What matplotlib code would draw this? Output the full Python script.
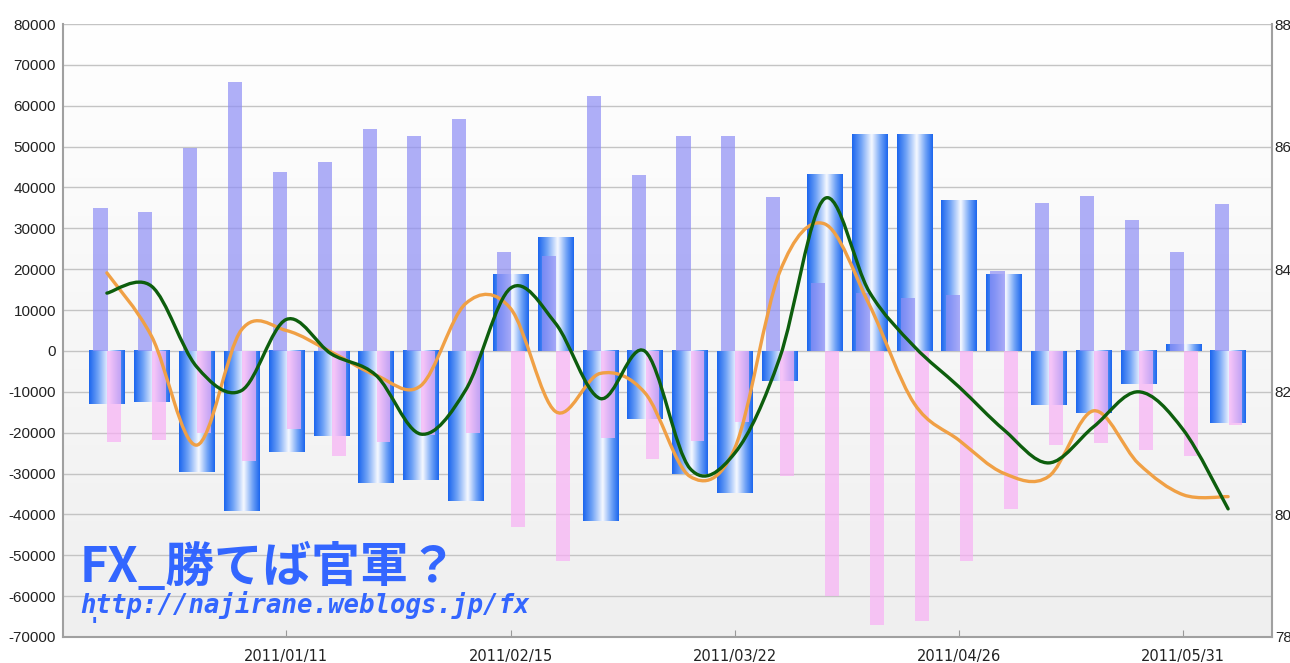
import matplotlib
matplotlib.use("Agg")
import matplotlib.pyplot as plt
import matplotlib.dates as mdates
from matplotlib.path import Path
from matplotlib.patches import PathPatch
from matplotlib.colors import LinearSegmentedColormap
import numpy as np
import datetime as dt

# ---------------- data ----------------
dates = ['2010-12-14', '2010-12-21', '2010-12-28', '2011-01-04', '2011-01-11',
         '2011-01-18', '2011-01-25', '2011-02-01', '2011-02-08', '2011-02-15',
         '2011-02-22', '2011-03-01', '2011-03-08', '2011-03-15', '2011-03-22',
         '2011-03-29', '2011-04-05', '2011-04-12', '2011-04-19', '2011-04-26',
         '2011-05-03', '2011-05-10', '2011-05-17', '2011-05-24', '2011-05-31',
         '2011-06-07']

long_pos = [34900, 33900, 49700, 65900, 43800, 46200, 54300, 52600, 56800, 24100,
            23300, 62400, 43000, 52600, 52600, 37700, 16600, 14100, 13000, 13700,
            19600, 36200, 38000, 32000, 24200, 36000]

short_pos = [-22400, -21900, -20100, -26900, -19200, -25600, -22400, -20500, -20000, -43000,
             -51400, -21400, -26500, -22000, -17500, -30700, -60000, -67000, -66000, -51300,
             -38700, -23000, -22500, -24300, -25800, -18100]

net_pos = [-13000, -12600, -29600, -39100, -24800, -20700, -32200, -31600, -36600, 18600,
           27800, -41600, -16700, -30200, -34700, -7300, 43200, 52900, 52900, 36900,
           18600, -13200, -15200, -8100, 1500, -17700]

green_line = [83.61, 83.72, 82.41, 82.02, 83.18, 82.62, 82.27, 81.31, 82.03, 83.69,
              83.12, 81.89, 82.66, 80.75, 81.00, 82.55, 85.15, 83.63, 82.74, 82.08,
              81.38, 80.84, 81.43, 82.00, 81.38, 80.09]

orange_line = [83.94, 82.90, 81.13, 83.01, 83.00, 82.65, 82.27, 82.10, 83.44, 83.36,
               81.68, 82.30, 81.98, 80.62, 81.08, 83.95, 84.74, 83.42, 81.81, 81.21,
               80.67, 80.62, 81.69, 80.83, 80.32, 80.29]

xtick_dates = ['2011-01-11', '2011-02-15', '2011-03-22', '2011-04-26', '2011-05-31']
xtick_labels = ['2011/01/11', '2011/02/15', '2011/03/22', '2011/04/26', '2011/05/31']

left_ticks = list(range(-70000, 80001, 10000))
right_ticks = [78, 80, 82, 84, 86, 88]

# ---------------- figure ----------------
W, H = 1290, 663
fig = plt.figure(figsize=(W / 100, H / 100), dpi=100)
fig.patch.set_facecolor('white')
ax = fig.add_axes([63 / W, 1 - 637 / H, (1272 - 63) / W, (637 - 24) / H])

x = np.array([mdates.date2num(dt.datetime.strptime(d, '%Y-%m-%d')) for d in dates])
xt = [mdates.date2num(dt.datetime.strptime(d, '%Y-%m-%d')) for d in xtick_dates]

xlim = (x[0] - 6.85, x[-1] + 6.85)
ylim = (-70000, 80000)

# background gradient
bg = np.linspace(1, 0, 256).reshape(-1, 1)
bg_cmap = LinearSegmentedColormap.from_list('bg', ['#efefef', '#ffffff'])
ax.imshow(bg, extent=[0, 1, 0, 1], transform=ax.transAxes, cmap=bg_cmap,
          aspect='auto', zorder=0, interpolation='bilinear')
ax.patch.set_visible(False)

# gridlines
for v in left_ticks:
    ax.axhline(v, color='#c4c4c4', lw=1.0, zorder=1)

# blue gradient bars (net)
blue_cmap = LinearSegmentedColormap.from_list(
    'bl', [(0.0, '#1c66ee'), (0.25, '#6fa2f6'), (0.55, '#f6f9ff'),
           (0.8, '#6fa2f6'), (1.0, '#1c66ee')])
grad = np.linspace(0, 1, 128).reshape(1, -1)
bw = 5.5
for xi, v in zip(x, net_pos):
    ax.imshow(grad, extent=[xi - bw / 2, xi + bw / 2, 0, v], cmap=blue_cmap,
              aspect='auto', zorder=2, interpolation='bilinear')

# purple (long) and pink (short) bars
ax.bar(x - 1.0, long_pos, width=2.2, color='#8e8ef5', alpha=0.7, zorder=3, lw=0)
ax.bar(x + 1.17, short_pos, width=2.15, color='#f8b0f5', alpha=0.7, zorder=3, lw=0)

ax.set_xlim(*xlim)
ax.set_ylim(*ylim)
ax.set_autoscale_on(False)

ax.set_yticks(left_ticks)
ax.set_yticklabels([str(v) for v in left_ticks], fontsize=11, family='Liberation Sans',
                   color='#222222')
ax.tick_params(axis='y', length=0, pad=5)
ax.set_xticks(xt)
ax.set_xticklabels(xtick_labels, fontsize=10.5, family='DejaVu Sans', color='#222222')
ax.tick_params(axis='x', direction='in', length=5, color='#999999', pad=8.5)

for s in ['left', 'bottom']:
    ax.spines[s].set_color('#a0a0a0')
    ax.spines[s].set_linewidth(1.5)
ax.spines['top'].set_visible(False)
ax.spines['right'].set_visible(False)

# right axis lines
ax2 = ax.twinx()
ax2.set_ylim(78, 88)
ax2.set_xlim(*xlim)
ax2.set_yticks(right_ticks)
ax2.set_yticklabels([str(v) for v in right_ticks], fontsize=11, family='Liberation Sans',
                    color='#222222')
ax2.tick_params(axis='y', length=0, pad=2)
for s in ['left', 'top', 'bottom']:
    ax2.spines[s].set_visible(False)
ax2.spines['right'].set_color('#a0a0a0')
ax2.spines['right'].set_linewidth(1.5)


def spline_path(xs, ys):
    pts = np.column_stack([xs, ys])
    n = len(pts)
    verts = [pts[0]]
    codes = [Path.MOVETO]
    for i in range(n - 1):
        p0 = pts[i - 1] if i > 0 else pts[i]
        p1 = pts[i]
        p2 = pts[i + 1]
        p3 = pts[i + 2] if i + 2 < n else pts[i + 1]
        c1 = p1 + (p2 - p0) / 6.0
        c2 = p2 - (p3 - p1) / 6.0
        verts += [c1, c2, p2]
        codes += [Path.CURVE4] * 3
    return Path(verts, codes)


ax2.add_patch(PathPatch(spline_path(x, green_line), fill=False, edgecolor='#0d5e0d',
                        lw=2.4, zorder=5, capstyle='round', joinstyle='round'))
ax2.add_patch(PathPatch(spline_path(x, orange_line), fill=False, edgecolor='#f0a045',
                        lw=2.4, zorder=4, capstyle='round', joinstyle='round'))

# watermark text
blue_txt = '#3366ff'
fig.text(80 / W, 1 - 582 / H, 'FX_勝てば官軍？', fontsize=35, fontweight='bold',
         family=['Noto Sans CJK JP', 'DejaVu Sans'], color=blue_txt, style='italic',
         va='baseline', ha='left')
fig.text(80 / W, 1 - 613 / H, 'http://najirane.weblogs.jp/fx', fontsize=18.5,
         fontweight='bold', family='DejaVu Sans Mono', style='oblique', color=blue_txt,
         va='baseline', ha='left')
fig.text(88 / W, 1 - 633 / H, "'", fontsize=16, fontweight='bold',
         family='DejaVu Sans Mono', style='oblique', color=blue_txt,
         va='baseline', ha='left')

fig.savefig('out.png', dpi=100)
